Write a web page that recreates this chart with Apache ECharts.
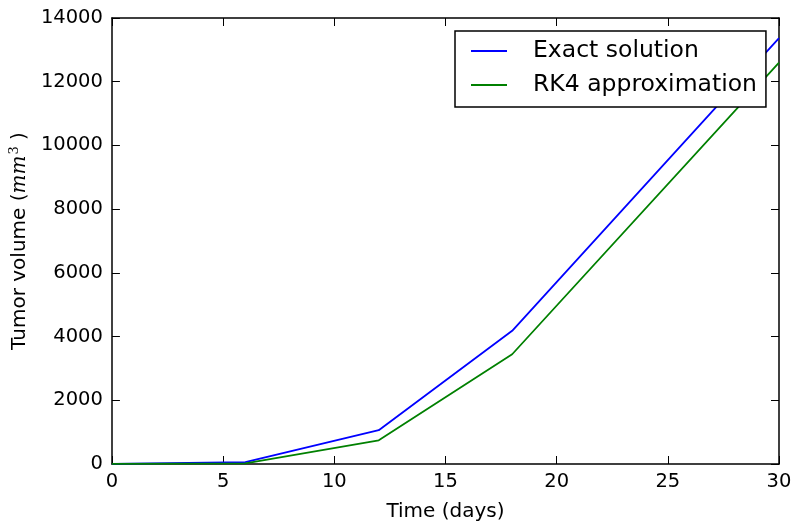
<!DOCTYPE html>
<html>
<head>
<meta charset="utf-8">
<script src="https://cdn.jsdelivr.net/npm/echarts@6/dist/echarts.min.js"></script>
<style>
  html, body { margin: 0; padding: 0; background: #fff; }
  #chart { width: 798px; height: 528px; }
</style>
</head>
<body>
<div id="chart"></div>
<script>
// time points (days)
const days = [0, 6, 12, 18, 30]
// tumor volume, exact solution
const exactValues = [5, 60, 1060, 4180, 13370]
// tumor volume, RK4 approximation
const rk4Values = [5, 20, 745, 3445, 12600]

const font = 'DejaVu Sans'
const toPairs = (xs, ys) => xs.map((x, i) => [x, ys[i]])

const chart = echarts.init(document.getElementById('chart'))

// mirror axes on top/right give the closed frame with inward ticks
const frameAxis = {
  axisLine: { show: true, onZero: false, lineStyle: { color: '#000', width: 1.5 } },
  axisTick: { show: true, inside: true, length: 8, lineStyle: { color: '#000', width: 1 } },
  axisLabel: { show: false },
  splitLine: { show: false }
}

const option = {
  animation: false,
  textStyle: { fontFamily: font },
  grid: { left: 111, right: 19, top: 18, bottom: 64 },
  legend: {
    orient: 'vertical',
    left: 455,
    top: 31,
    padding: [8, 9, 10, 16],
    itemGap: 10,
    itemWidth: 36,
    itemHeight: 2,
    icon: 'rect',
    backgroundColor: '#fff',
    borderColor: '#000',
    borderWidth: 1.5,
    textStyle: { fontFamily: font, fontSize: 23.5, color: '#000', padding: [0, 0, 0, 21], lineHeight: 24 },
    data: ['Exact solution', 'RK4 approximation']
  },
  xAxis: [
    {
      type: 'value',
      min: 0,
      max: 30,
      interval: 5,
      name: 'Time (days)',
      nameLocation: 'middle',
      nameGap: 38,
      nameTextStyle: { fontFamily: font, fontSize: 20, color: '#000' },
      ...frameAxis,
      axisLabel: { show: true, margin: 8, fontFamily: font, fontSize: 19.5, color: '#000' }
    },
    { type: 'value', position: 'top', min: 0, max: 30, interval: 5, ...frameAxis }
  ],
  yAxis: [
    {
      type: 'value',
      min: 0,
      max: 14000,
      interval: 2000,
      name: '{a|Tumor volume (}{i|mm}{s|3}{a| )}',
      nameLocation: 'middle',
      nameGap: 77,
      nameRotate: 90,
      nameTextStyle: {
        fontFamily: font,
        fontSize: 20,
        color: '#000',
        rich: {
          a: { fontFamily: font, fontSize: 20, color: '#000' },
          i: { fontFamily: 'DejaVu Serif', fontSize: 20, fontStyle: 'italic', color: '#000' },
          s: { fontFamily: 'DejaVu Serif', fontSize: 13, color: '#000', padding: [0, 0, 11, 1] }
        }
      },
      ...frameAxis,
      axisLabel: {
        show: true,
        margin: 9,
        fontFamily: font,
        fontSize: 19.5,
        color: '#000',
        formatter: (v) => String(v)
      }
    },
    { type: 'value', position: 'right', min: 0, max: 14000, interval: 2000, ...frameAxis }
  ],
  series: [
    {
      name: 'Exact solution',
      type: 'line',
      symbol: 'none',
      color: '#0000ff',
      lineStyle: { color: '#0000ff', width: 1.8 },
      data: toPairs(days, exactValues)
    },
    {
      name: 'RK4 approximation',
      type: 'line',
      symbol: 'none',
      color: '#008000',
      lineStyle: { color: '#008000', width: 1.8 },
      data: toPairs(days, rk4Values)
    }
  ]
}

chart.setOption(option)
</script>
</body>
</html>
